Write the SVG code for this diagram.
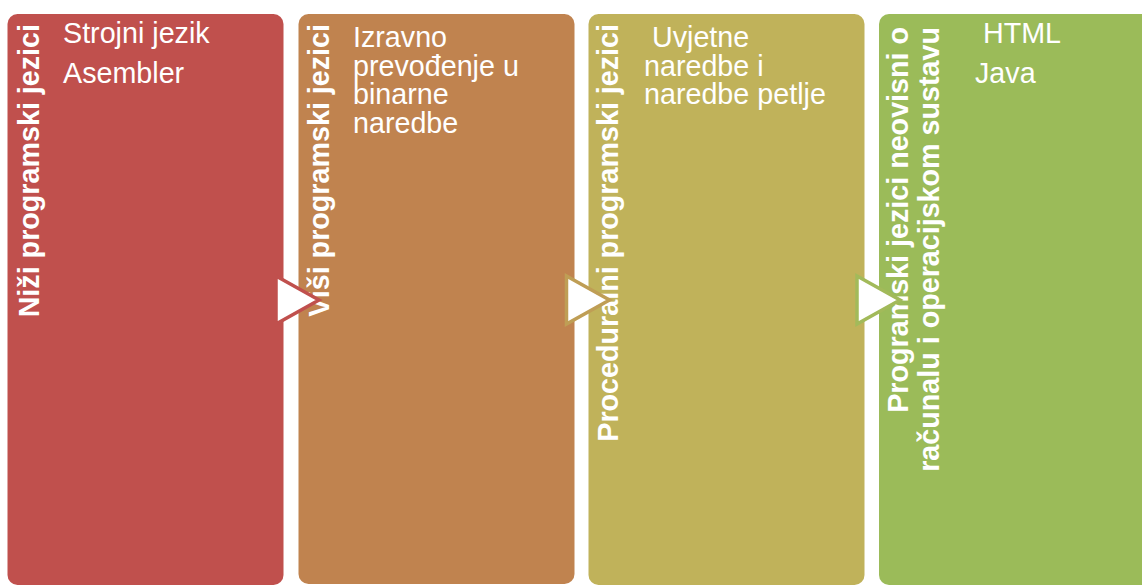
<svg xmlns="http://www.w3.org/2000/svg" width="1142" height="586" viewBox="0 0 1142 586">
<style>
.box{stroke:none}
.t{font-family:"Liberation Sans",Arial,sans-serif;font-size:28.7px;fill:#ffffff}
.title{font-family:"Liberation Sans",Arial,sans-serif;font-size:28.7px;font-weight:bold;fill:#ffffff}
.arrow{fill:#ffffff;stroke-width:3.5;stroke-linejoin:miter}
</style>
<rect width="1142" height="586" fill="#ffffff"/>
<g id="node1">
<rect class="box" x="7.5" y="14" width="276" height="571" rx="10" fill="#C0504D"/>
<text class="title" transform="translate(39,24) rotate(-90)" text-anchor="end">Niži programski jezici</text>
<text class="t" x="63" y="43">Strojni jezik</text>
<text class="t" x="63" y="83">Asembler</text>
</g>
<g id="node2">
<rect class="box" x="298.5" y="14" width="276" height="570" rx="10" fill="#C0834F"/>
<text class="title" transform="translate(329,24) rotate(-90)" text-anchor="end">Viši programski jezici</text>
<text class="t" x="353" y="46.7">Izravno</text>
<text class="t" x="353" y="75.5">prevođenje u</text>
<text class="t" x="353" y="104.3">binarne</text>
<text class="t" x="353" y="133.1">naredbe</text>
</g>
<g id="node3">
<rect class="box" x="588.5" y="14" width="276" height="571" rx="10" fill="#C0B25A"/>
<text class="title" transform="translate(618,24) rotate(-90)" text-anchor="end">Proceduralni programski jezici</text>
<text class="t" x="644" y="46.7" xml:space="preserve"> Uvjetne</text>
<text class="t" x="644" y="75.5">naredbe i</text>
<text class="t" x="644" y="104.3">naredbe petlje</text>
</g>
<g id="node4">
<rect class="box" x="879" y="14" width="276" height="571" rx="10" fill="#9BBB59"/>
<text class="title" transform="translate(908,27) rotate(-90)" text-anchor="end">Programski jezici neovisni o</text>
<text class="title" transform="translate(939,27) rotate(-90)" text-anchor="end">računalu i operacijskom sustavu</text>
<text class="t" x="975" y="43" xml:space="preserve"> HTML</text>
<text class="t" x="975" y="83">Java</text>
</g>
<g id="connectors">
<polygon class="arrow" stroke="#C0504D" points="276,276 319,300 276,324"/>
<polygon class="arrow" stroke="#BF9E55" points="566.5,276 609.5,300 566.5,324"/>
<polygon class="arrow" stroke="#A2BA5A" points="857,276 900,300 857,324"/>
</g>
</svg>
